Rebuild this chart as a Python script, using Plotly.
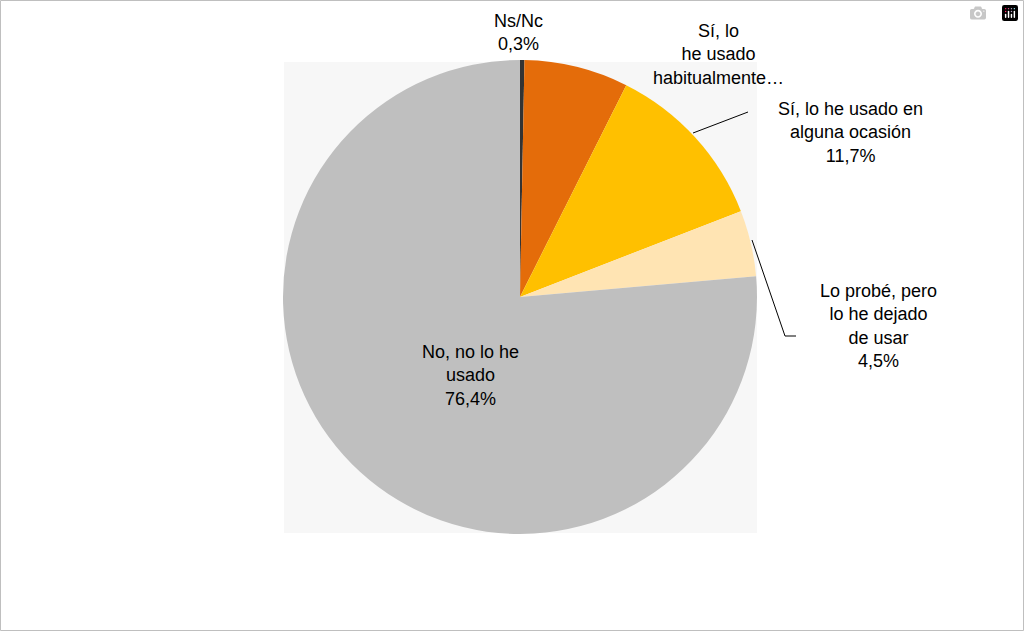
import plotly.graph_objects as go

labels = ["Ns/Nc", "Sí, lo he usado habitualmente", "Sí, lo he usado en alguna ocasión",
          "Lo probé, pero lo he dejado de usar", "No, no lo he usado"]
values = [0.3, 7.1, 11.7, 4.5, 76.4]
colors = ["#333333", "#E46C0A", "#FFC000", "#FFE4B3", "#BFBFBF"]
label_texts = ["Ns/Nc<br>0,3%", "Sí, lo<br>he usado<br>habitualmente…",
               "Sí, lo he usado en<br>alguna ocasión<br>11,7%",
               "Lo probé, pero<br>lo he dejado<br>de usar<br>4,5%",
               "No, no lo he<br>usado<br>76,4%"]
label_pos = [(518, 32), (718, 55), (850, 132), (878, 326), (470, 375)]

W, H = 1024, 631
fig = go.Figure(go.Pie(labels=labels, values=values, sort=False, direction="clockwise",
                       rotation=0, marker=dict(colors=colors, line=dict(width=0)),
                       textinfo="none", hoverinfo="label+percent",
                       domain=dict(x=[283/W, 757/W], y=[97/H, 571/H])))
ann = [dict(x=x/W, y=1-y/H, xref="paper", yref="paper", text=t, showarrow=False,
            font=dict(family="Liberation Sans, Arial", size=18, color="#000"),
            xanchor="center", yanchor="middle")
       for t, (x, y) in zip(label_texts, label_pos)]
shapes = [
    dict(type="rect", xref="paper", yref="paper", x0=284/W, x1=757/W, y0=1-533/H, y1=1-62/H,
         fillcolor="#F7F7F7", line=dict(width=0), layer="below"),
    dict(type="line", xref="paper", yref="paper", x0=693/W, y0=1-133/H, x1=748/W, y1=1-112/H,
         line=dict(color="#000", width=1)),
    dict(type="path", xref="paper", yref="paper",
         path=f"M {752/W},{1-240/H} L {785/W},{1-336/H} L {796/W},{1-336/H}",
         line=dict(color="#000", width=1)),
    dict(type="rect", xref="paper", yref="paper", x0=0.5/W, x1=1-0.5/W, y0=0.5/H, y1=1-0.5/H,
         line=dict(color="#BFBFBF", width=1)),
]
fig.update_layout(width=W, height=H, margin=dict(l=0, r=0, t=0, b=0), showlegend=False,
                  paper_bgcolor="white", annotations=ann, shapes=shapes)
fig.write_html("out.html")
with open("out.html", encoding="utf-8") as f:
    html = f.read()
html = html.replace("<body>", "<body style=\"margin:0;overflow:hidden\">", 1)
with open("out.html", "w", encoding="utf-8") as f:
    f.write(html)
